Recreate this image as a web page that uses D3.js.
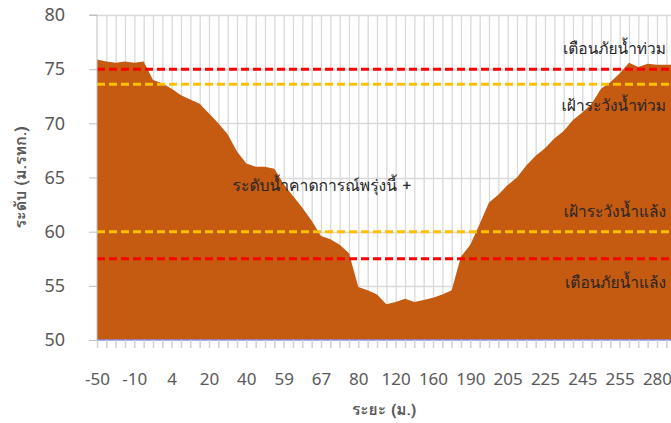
<!DOCTYPE html>
<html>
<head>
<meta charset="utf-8">
<script src="https://cdn.jsdelivr.net/npm/d3@7"></script>
<style>
  body { margin: 0; background: #fff; }
  svg { display: block; }
</style>
</head>
<body>
<div id="container"></div>
<script>
/* CONSTANTS AND GLOBALS */
const width = 671;
const height = 423;
const margin = { top: 15, bottom: 82, left: 97, right: 0 };
const step = 9.333;

/* DATA */
// ระยะ (ม.) - only every 4th label is shown on the axis
const distances = [
  -50, -40, -30, -20, -10, -6, -2, 2, 4, 8, 12, 16, 20, 25, 30, 35,
  40, 45, 50, 55, 59, 61, 63, 65, 67, 70, 74, 77, 80, 90, 100, 110,
  120, 130, 140, 150, 160, 170, 178, 185, 190, 194, 198, 202, 205, 210, 215, 220,
  225, 230, 235, 240, 245, 247, 250, 252, 255, 260, 265, 270, 280, 285, 290
];
// ระดับตลิ่ง/ท้องน้ำ (ม.รทก.)
const levels = [
  75.9, 75.7, 75.6, 75.7, 75.6, 75.7, 74.0, 73.7, 73.2, 72.6, 72.2, 71.8, 70.9, 70.0, 69.0, 67.4,
  66.3, 66.0, 66.0, 65.8, 64.4, 63.3, 62.2, 61.0, 59.6, 59.3, 58.8, 58.0, 54.9, 54.6, 54.2, 53.3,
  53.5, 53.8, 53.5, 53.7, 53.9, 54.2, 54.6, 57.7, 58.8, 60.7, 62.7, 63.4, 64.3, 65.0, 66.1, 67.0,
  67.7, 68.6, 69.3, 70.3, 71.0, 71.8, 73.2, 73.8, 74.6, 75.6, 75.2, 75.5, 75.4, 75.4, 75.4
];
const thresholds = [
  { name: "เตือนภัยน้ำท่วม", value: 75.0, color: "#ff0000", labelY: 49 },
  { name: "เฝ้าระวังน้ำท่วม", value: 73.6, color: "#ffc000", labelY: 106 },
  { name: "เฝ้าระวังน้ำแล้ง", value: 60.0, color: "#ffc000", labelY: 212 },
  { name: "เตือนภัยน้ำแล้ง", value: 57.5, color: "#ff0000", labelY: 283 }
];
const yTicks = [50, 55, 60, 65, 70, 75, 80];
const forecastLabel = "ระดับน้ำคาดการณ์พรุ่งนี้ +";

const thaiFont = "Tahoma, Loma, Garuda, 'Noto Sans Thai Looped', 'Leelawadee UI', 'Noto Sans Thai', sans-serif";
const numFont = "'Liberation Sans Narrow', 'Noto Sans', sans-serif";

/* SCALES */
const data = distances.map((d, i) => ({ cat: String(d), i, level: levels[i] }));

const xScale = d3.scalePoint()
  .domain(data.map(d => d.cat))
  .range([margin.left, margin.left + step * (data.length - 1)]);

const yScale = d3.scaleLinear()
  .domain([50, 80])
  .range([height - margin.bottom - 1, margin.top]);

/* HTML ELEMENTS */
const svg = d3.select("#container")
  .append("svg")
  .attr("width", width)
  .attr("height", height);

const plot = svg.append("g");

// vertical gridlines
plot.selectAll("line.vgrid")
  .data(data.slice(1))
  .join("line")
  .attr("class", "vgrid")
  .attr("x1", d => xScale(d.cat) + 0.5)
  .attr("x2", d => xScale(d.cat) + 0.5)
  .attr("y1", yScale(80))
  .attr("y2", yScale(50))
  .attr("stroke", "#d9d9d9")
  .attr("stroke-width", 1.3);

// horizontal gridlines
plot.selectAll("line.hgrid")
  .data(yTicks.slice(1))
  .join("line")
  .attr("class", "hgrid")
  .attr("x1", margin.left)
  .attr("x2", width)
  .attr("y1", d => Math.round(yScale(d)) + 0.5)
  .attr("y2", d => Math.round(yScale(d)) + 0.5)
  .attr("stroke", "#d9d9d9")
  .attr("stroke-width", 1.3);

// area
const area = d3.area()
  .x(d => xScale(d.cat))
  .y0(yScale(50))
  .y1(d => yScale(d.level));

plot.append("path")
  .datum(data)
  .attr("d", area)
  .attr("fill", "#c55a11");

// bottom line
plot.append("line")
  .attr("x1", margin.left)
  .attr("x2", width)
  .attr("y1", yScale(50))
  .attr("y2", yScale(50))
  .attr("stroke", "#8c8ce6")
  .attr("stroke-width", 1.5);

// threshold lines
plot.selectAll("line.thr")
  .data(thresholds)
  .join("line")
  .attr("class", "thr")
  .attr("x1", margin.left)
  .attr("x2", width)
  .attr("y1", d => yScale(d.value))
  .attr("y2", d => yScale(d.value))
  .attr("stroke", d => d.color)
  .attr("stroke-width", 3)
  .attr("stroke-dasharray", "8,4");

// threshold labels
svg.selectAll("text.thr")
  .data(thresholds)
  .join("text")
  .attr("class", "thr")
  .attr("x", 666)
  .attr("y", d => d.labelY)
  .attr("dy", "0.35em")
  .attr("text-anchor", "end")
  .style("font-family", thaiFont)
  .style("font-size", "15.5px")
  .style("fill", "#262626")
  .text(d => d.name);

svg.append("text")
  .attr("x", 322)
  .attr("y", 186)
  .attr("dy", "0.35em")
  .attr("text-anchor", "middle")
  .style("font-family", thaiFont)
  .style("font-size", "15.7px")
  .style("fill", "#262626")
  .text(forecastLabel);

/* AXES */
const xAxis = d3.axisBottom(xScale)
  .tickValues(data.filter(d => d.i % 4 === 0).map(d => d.cat))
  .tickSize(8)
  .tickPadding(25);

const yAxis = d3.axisLeft(yScale)
  .tickValues(yTicks)
  .tickSize(8)
  .tickPadding(24);

const gx = svg.append("g")
  .attr("transform", `translate(0,${yScale(50)})`)
  .call(xAxis);
gx.select(".domain").remove();
gx.selectAll(".tick line").attr("stroke", "#d0d0d0").attr("stroke-width", 1.5);
gx.selectAll(".tick text")
  .style("font-family", numFont)
  .style("font-size", "17px")
  .style("fill", "#595959");

// minor tick marks for every category
svg.selectAll("line.xminor")
  .data(data.filter(d => d.i % 4 !== 0))
  .join("line")
  .attr("class", "xminor")
  .attr("x1", d => xScale(d.cat) + 0.5)
  .attr("x2", d => xScale(d.cat) + 0.5)
  .attr("y1", yScale(50))
  .attr("y2", yScale(50) + 8)
  .attr("stroke", "#d0d0d0")
  .attr("stroke-width", 1.5);

const gy = svg.append("g")
  .attr("transform", `translate(${margin.left},0)`)
  .call(yAxis);
gy.select(".domain").attr("stroke", "#bfbfbf").attr("d", `M-8,${yScale(80)}H0V${yScale(50)}`);
gy.selectAll(".tick line").attr("stroke", "#bfbfbf");
gy.selectAll(".tick text")
  .style("font-family", numFont)
  .style("font-size", "18px")
  .style("fill", "#595959");

/* AXIS TITLES */
svg.append("text")
  .attr("transform", `translate(20,${(yScale(50) + yScale(80)) / 2}) rotate(-90)`)
  .attr("text-anchor", "middle")
  .attr("dy", "0.35em")
  .style("font-family", thaiFont)
  .style("font-size", "16px")
  .style("font-weight", "bold")
  .style("fill", "#595959")
  .text("ระดับ (ม.รทก.)");

svg.append("text")
  .attr("x", 384)
  .attr("y", 410)
  .attr("text-anchor", "middle")
  .attr("dy", "0.35em")
  .style("font-family", thaiFont)
  .style("font-size", "15.5px")
  .style("font-weight", "bold")
  .style("fill", "#595959")
  .text("ระยะ (ม.)");
</script>
</body>
</html>
